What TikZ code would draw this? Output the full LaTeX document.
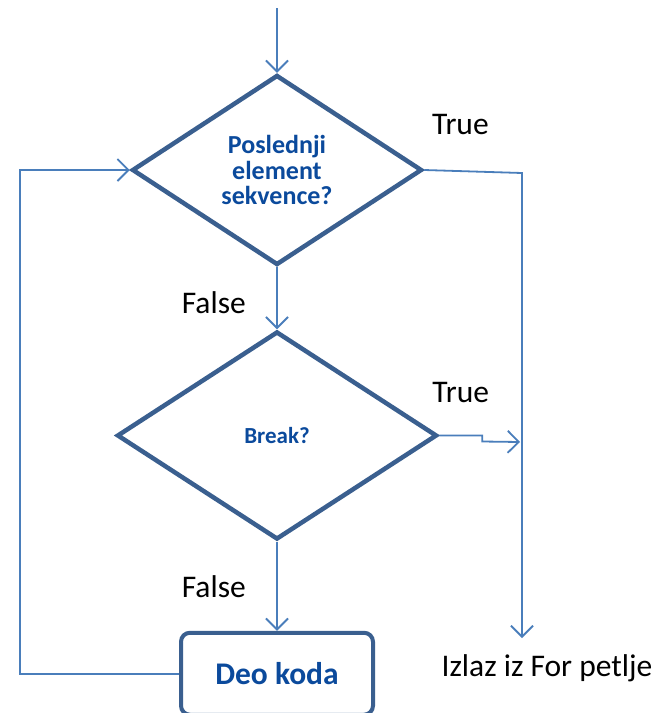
\documentclass[tikz,border=0pt]{standalone}
\usepackage{fontspec}
\setmainfont{Carlito}
\usetikzlibrary{arrows.meta, positioning, shapes.geometric}
\definecolor{decisionborder}{HTML}{3A5F8F}
\definecolor{decisiontext}{HTML}{0B4A9C}
\definecolor{flowline}{HTML}{4A7EBB}

\begin{document}
\begin{tikzpicture}[
      x=1pt, y=1pt,
      decision/.style={draw=decisionborder, line width=4.5pt, diamond,
        inner sep=0pt, align=center, text=decisiontext},
      codebox/.style={draw=decisionborder, line width=4pt, rounded corners=9pt,
        minimum width=192pt, minimum height=82pt, text=decisiontext,
        font=\fontsize{31.5}{36}\selectfont\bfseries},
      flow/.style={flowline, line width=1.8pt},
      lbl/.style={font=\fontsize{31.5}{36}\selectfont, text=black},
      >={Straight Barb[length=11pt, width=22pt]}
    ]
      \useasboundingbox (0,0) rectangle (671,-713);

      \node[decision, minimum width=290pt, minimum height=190pt, aspect=1.53,
        font=\fontsize{26}{25.5}\selectfont\bfseries]
        (last) at (277,-170) {Poslednji\\element\\sekvence?};
      \node[decision, minimum width=320pt, minimum height=208pt, aspect=1.54,
        font=\fontsize{23}{28}\selectfont\bfseries,
        below=62pt of last] (brk) {Break?};
      \node[codebox, below=89pt of brk] (code) {Deo koda};

      \coordinate (start) at (277,-8);
      \coordinate (truecorner) at (522,-173);
      \coordinate (exitend) at (522,-638);
      \coordinate (breakjoin) at (520,-442);
      \coordinate (loopx) at (20,0);
      \node[lbl, anchor=base] (izlaz) at (547,-676) {Izlaz iz For petlje};

      \draw[->, flow] (start) -- (last.north);
      \draw[->, flow] (last.south) --
        node[lbl, midway, left=27pt, yshift=-4pt] {False} (brk.north);
      \draw[->, flow] (brk.south) --
        node[lbl, midway, left=27pt] {False} (code.north);
      \draw[->, flow] (last.east) --
        node[lbl, pos=0.37, above=32pt] {True} (truecorner) -- (exitend);
      \draw[->, flow] (brk.east) --
        node[lbl, midway, above=29pt] {True} ++(43,0) -- ++(0,-6) -- (breakjoin);
      \draw[->, flow] (code.west) -- (code.west -| loopx) |- (last.west);
    \end{tikzpicture}
\end{document}
